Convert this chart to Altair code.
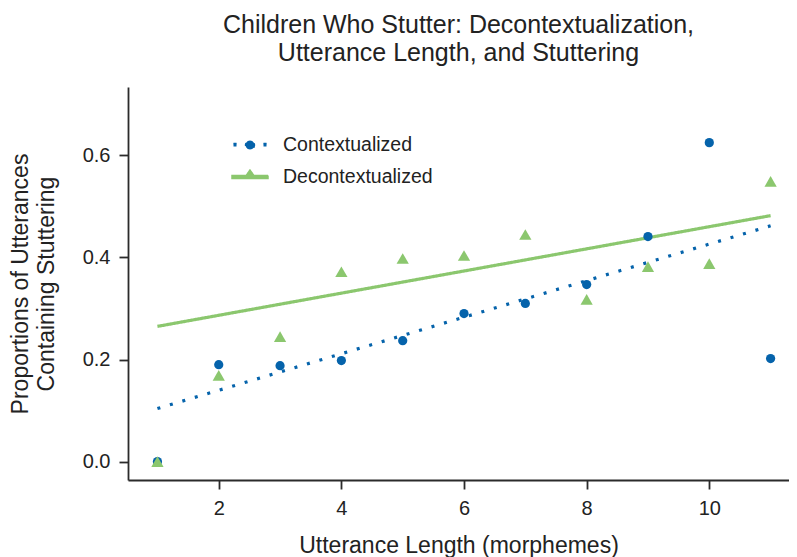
import altair as alt
import pandas as pd

# ---- data ----
lengths = [1, 2, 3, 4, 5, 6, 7, 8, 9, 10, 11]
contextualized = [0.000, 0.190, 0.188, 0.198, 0.237, 0.290, 0.310, 0.347, 0.441, 0.625, 0.202]
decontextualized = [0.000, 0.169, 0.245, 0.372, 0.398, 0.404, 0.445, 0.318, 0.382, 0.388, 0.549]

fit_x = [1, 11]
fit_contextualized = [0.104, 0.462]
fit_decontextualized = [0.265, 0.482]

series_names = ["Contextualized", "Decontextualized"]
series_colors = ["#0563ab", "#8bc76e"]
x_ticks = [2, 4, 6, 8, 10]
y_ticks = [0.0, 0.2, 0.4, 0.6]

# ---- tables ----
points_df = pd.DataFrame(
    {"length": lengths * 2,
     "value": contextualized + decontextualized,
     "series": [series_names[0]] * len(lengths) + [series_names[1]] * len(lengths)}
)
fit_df = pd.DataFrame(
    {"length": fit_x * 2,
     "value": fit_contextualized + fit_decontextualized,
     "series": [series_names[0]] * len(fit_x) + [series_names[1]] * len(fit_x)}
)

FONT = "Liberation Sans"
TEXT = "#222222"

x_scale = alt.Scale(domain=[0.52, 11.3], nice=False, zero=False)
y_scale = alt.Scale(domain=[-0.036, 0.734], nice=False, zero=False)
color_scale = alt.Scale(domain=series_names, range=series_colors)

x_axis = alt.Axis(values=x_ticks, title="Utterance Length (morphemes)", titlePadding=16)
y_axis = alt.Axis(values=y_ticks, format=".1f",
                  title=["Proportions of Utterances", "Containing Stuttering"],
                  titlePadding=24, titleLineHeight=26)

x_enc = alt.X("length:Q", scale=x_scale, axis=x_axis)
y_enc = alt.Y("value:Q", scale=y_scale, axis=y_axis)

lines = alt.Chart(fit_df).mark_line(strokeWidth=3.2, strokeCap="butt").encode(
    x=x_enc, y=y_enc,
    color=alt.Color("series:N", scale=color_scale, legend=None),
    strokeDash=alt.StrokeDash("series:N",
                              scale=alt.Scale(domain=series_names, range=[[3, 10], [1, 0]]),
                              legend=None),
)

circles = alt.Chart(points_df).transform_filter(
    alt.datum.series == series_names[0]
).mark_point(shape="circle", filled=True, size=85, opacity=1).encode(
    x=x_enc, y=y_enc,
    color=alt.Color("series:N", scale=color_scale, legend=None),
)

triangles = alt.Chart(points_df).transform_filter(
    alt.datum.series == series_names[1]
).mark_point(shape="triangle-up", filled=True, size=150, opacity=1).encode(
    x=x_enc, y=y_enc,
    color=alt.Color("series:N", scale=color_scale, legend=None),
)

# legend symbols: dotted line with circle, solid line with triangle (polygon paths)
circle_poly = ("M 0.45 0 L 0.39 0.225 L 0.225 0.39 L 0 0.45 L -0.225 0.39 L -0.39 0.225 "
               "L -0.45 0 L -0.39 -0.225 L -0.225 -0.39 L 0 -0.45 L 0.225 -0.39 L 0.39 -0.225 Z")
path_context = (
    "M -1.65 -0.15 L -1.35 -0.15 L -1.35 0.15 L -1.65 0.15 Z "
    "M 1.35 -0.15 L 1.65 -0.15 L 1.65 0.15 L 1.35 0.15 Z " + circle_poly
)
path_decontext = (
    "M -1.8 -0.16 L 1.8 -0.16 L 1.8 0.16 L -1.8 0.16 Z "
    "M 0 -0.7 L 0.6 0.16 L -0.6 0.16 Z"
)

legend_props = dict(
    title=None, orient="none", legendX=111, legendY=47, padding=0,
    labelFontSize=19.5, labelFont=FONT, labelColor=TEXT, labelOffset=22,
    symbolSize=400, rowPadding=11, symbolOpacity=1,
)

legend_layer = alt.Chart(points_df).mark_point(filled=True, size=400, opacity=0).encode(
    x=x_enc, y=y_enc,
    color=alt.Color("series:N", scale=color_scale, legend=alt.Legend(**legend_props)),
    shape=alt.Shape("series:N",
                    scale=alt.Scale(domain=series_names, range=[path_context, path_decontext]),
                    legend=alt.Legend(**legend_props)),
)

chart = alt.layer(legend_layer, lines, circles, triangles).properties(
    width=661,
    height=393,
    title=alt.TitleParams(
        ["Children Who Stutter: Decontextualization,", "Utterance Length, and Stuttering"],
        fontSize=25, font=FONT, fontWeight="normal", color=TEXT,
        anchor="middle", offset=21, lineHeight=28,
    ),
    autosize=alt.AutoSizeParams(type="none"),
    padding={"left": 120, "top": 79, "right": 0, "bottom": 77},
).configure_axis(
    grid=False,
    domainColor="#2b2b2b", domainWidth=1.8,
    tickColor="#2b2b2b", tickWidth=1.8, tickSize=9,
    labelFont=FONT, labelFontSize=20, labelColor=TEXT, labelPadding=9,
    titleFont=FONT, titleFontSize=23, titleColor=TEXT, titleFontWeight="normal",
).configure_view(stroke=None)

chart.save("out.html", embed_options={"renderer": "svg", "actions": False})
